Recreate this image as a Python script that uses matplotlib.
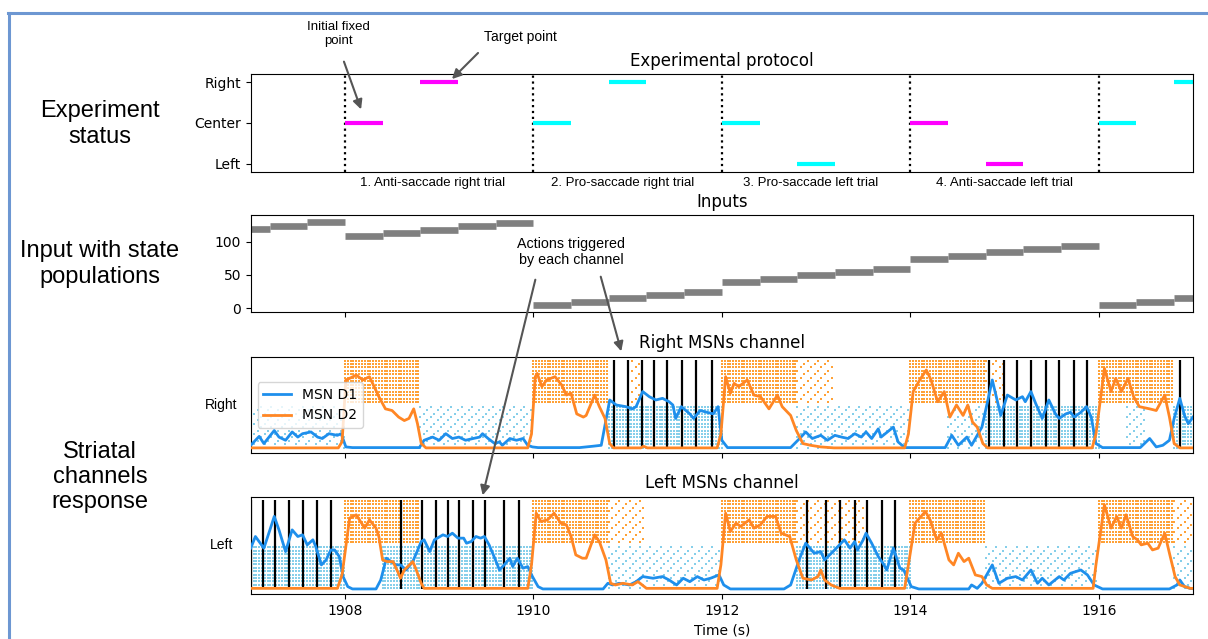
import matplotlib
matplotlib.use("Agg")
import matplotlib.pyplot as plt
import numpy as np
from matplotlib.lines import Line2D
from matplotlib.patches import FancyArrowPatch

W, H = 1208, 639
ARIAL = "Liberation Sans"

# Protocolo experimental
trial_starts = [1908, 1910, 1912, 1914, 1916]
trial_colors = ["magenta", "cyan", "cyan", "magenta", "cyan"]
target_side = [2, 2, 0, 0, 2]  # 0 = Left, 1 = Center, 2 = Right
trial_labels = ["1. Anti-saccade right trial", "2. Pro-saccade right trial",
                "3. Pro-saccade left trial", "4. Anti-saccade left trial"]
trial_label_x = [1908.93, 1910.95, 1912.94, 1915.0]

# Entradas (nivel de cada paso de 0.4 s, desde 1906.8)
input_start = 1906.8
input_levels = [119, 124, 129,
                108, 113, 118, 123, 128,
                4.5, 9.5, 14.5, 19.5, 24.5,
                39, 44, 49, 54, 59,
                74, 79, 84, 89, 94,
                4.5, 9.5, 14.5]

# Tasas MSN (tiempo, valor)
right_d1 = [(1907.00, 8.3), (1907.09, 17.5), (1907.14, 10.1), (1907.25, 23.6), (1907.30, 16.8),
            (1907.37, 13.5), (1907.44, 22.1), (1907.50, 16.8), (1907.55, 20.3), (1907.64, 22.1),
            (1907.71, 16.8), (1907.76, 15.3), (1907.83, 20.3), (1907.92, 18.6), (1907.96, 20.3),
            (1908.01, 6.6), (1908.08, 5.9), (1908.79, 5.9), (1908.84, 13.5), (1908.93, 16.8),
            (1909.00, 13.5), (1909.07, 20.3), (1909.14, 15.3), (1909.21, 16.8), (1909.28, 13.5),
            (1909.36, 15.3), (1909.43, 16.8), (1909.46, 20.3), (1909.52, 15.3), (1909.59, 10.1),
            (1909.64, 11.8), (1909.67, 8.3), (1909.75, 15.3), (1909.82, 13.5), (1909.89, 15.3),
            (1909.94, 8.3), (1909.99, 6.6), (1910.05, 5.9), (1910.49, 5.9), (1910.63, 7.3),
            (1910.72, 8.3), (1910.81, 55.2), (1910.88, 50.0), (1910.98, 48.3), (1911.05, 46.0),
            (1911.09, 48.3), (1911.16, 63.9), (1911.23, 58.6), (1911.30, 55.2), (1911.37, 56.9),
            (1911.44, 53.4), (1911.48, 50.0), (1911.51, 36.1), (1911.57, 48.3), (1911.66, 40.8),
            (1911.70, 36.1), (1911.77, 44.3), (1911.84, 42.5), (1911.91, 40.8), (1911.96, 48.3),
            (1912.00, 13.5), (1912.06, 5.9), (1912.73, 5.9), (1912.84, 16.8), (1912.89, 22.1),
            (1912.96, 15.3), (1913.05, 18.6), (1913.12, 13.5), (1913.20, 18.6), (1913.27, 16.8),
            (1913.34, 15.3), (1913.41, 20.3), (1913.48, 16.8), (1913.53, 22.1), (1913.59, 15.3),
            (1913.66, 25.3), (1913.69, 16.8), (1913.82, 27.1), (1913.87, 11.8), (1913.94, 5.9),
            (1914.37, 5.9), (1914.44, 18.6), (1914.51, 8.3), (1914.60, 16.8), (1914.65, 8.3),
            (1914.72, 20.3), (1914.76, 27.1), (1914.87, 75.9), (1914.96, 39.2), (1915.03, 60.3),
            (1915.12, 55.2), (1915.19, 58.6), (1915.22, 53.4), (1915.28, 63.9), (1915.33, 51.7),
            (1915.40, 36.1), (1915.47, 55.2), (1915.54, 40.8), (1915.58, 36.1), (1915.65, 40.8),
            (1915.70, 42.5), (1915.74, 37.5), (1915.81, 42.5), (1915.87, 48.3), (1915.92, 37.5),
            (1915.97, 10.1), (1916.04, 5.9), (1916.44, 5.9), (1916.54, 15.3), (1916.61, 6.6),
            (1916.68, 8.3), (1916.75, 13.5), (1916.80, 36.1), (1916.86, 56.9), (1916.91, 39.2),
            (1916.95, 30.6), (1917.00, 37.5)]

right_d2 = [(1907.00, 5.6), (1907.93, 5.6), (1907.97, 12.0), (1908.01, 75.9), (1908.05, 77.6),
            (1908.12, 81.0), (1908.19, 75.9), (1908.26, 79.3), (1908.31, 69.0), (1908.36, 58.6),
            (1908.43, 46.0), (1908.50, 44.3), (1908.57, 37.5), (1908.63, 33.9), (1908.68, 36.1),
            (1908.73, 46.0), (1908.77, 30.6), (1908.81, 10.1), (1908.86, 5.6), (1909.94, 5.6),
            (1909.98, 20.0), (1910.02, 79.3), (1910.04, 82.7), (1910.09, 69.0), (1910.14, 75.9),
            (1910.23, 79.3), (1910.30, 70.7), (1910.35, 60.3), (1910.40, 62.1), (1910.46, 40.8),
            (1910.53, 37.5), (1910.56, 39.2), (1910.65, 60.3), (1910.70, 48.3), (1910.76, 36.1),
            (1910.81, 10.1), (1910.85, 5.6), (1911.14, 5.6), (1911.17, 7.3), (1911.21, 5.6),
            (1911.95, 5.6), (1911.99, 20.0), (1912.04, 79.3), (1912.09, 62.1), (1912.13, 72.4),
            (1912.18, 69.0), (1912.27, 75.9), (1912.34, 60.3), (1912.41, 58.6), (1912.50, 46.0),
            (1912.59, 60.3), (1912.64, 48.3), (1912.73, 39.2), (1912.79, 23.6), (1912.86, 10.1),
            (1912.94, 8.3), (1913.05, 6.6), (1913.19, 5.6), (1913.94, 5.6), (1913.98, 20.0),
            (1914.03, 63.9), (1914.10, 75.9), (1914.17, 86.2), (1914.22, 75.9), (1914.29, 53.4),
            (1914.36, 63.9), (1914.42, 37.5), (1914.49, 50.0), (1914.56, 39.2), (1914.61, 50.0),
            (1914.66, 32.3), (1914.71, 27.1), (1914.77, 10.1), (1914.82, 5.6), (1915.93, 5.6),
            (1915.97, 20.0), (1916.06, 87.9), (1916.13, 63.9), (1916.18, 77.6), (1916.24, 63.9),
            (1916.31, 77.6), (1916.37, 58.6), (1916.43, 48.3), (1916.54, 46.0), (1916.61, 44.3),
            (1916.70, 60.3), (1916.75, 37.5), (1916.80, 10.1), (1916.86, 5.6), (1917.00, 5.6)]

left_d1 = [(1907.00, 47.1), (1907.05, 59.1), (1907.14, 47.1), (1907.21, 67.7), (1907.25, 79.7),
           (1907.30, 65.9), (1907.37, 43.6), (1907.44, 65.9), (1907.50, 59.1), (1907.55, 60.8),
           (1907.60, 50.5), (1907.66, 55.7), (1907.69, 48.8), (1907.75, 29.9), (1907.80, 35.0),
           (1907.85, 45.3), (1907.89, 45.3), (1907.94, 38.5), (1907.98, 17.9), (1908.03, 7.6),
           (1908.08, 5.2), (1908.33, 5.2), (1908.38, 14.4), (1908.44, 36.8), (1908.49, 33.3),
           (1908.54, 29.9), (1908.59, 29.9), (1908.65, 24.7), (1908.72, 33.3), (1908.81, 53.9),
           (1908.84, 55.7), (1908.90, 43.6), (1908.95, 55.7), (1909.04, 60.8), (1909.09, 59.1),
           (1909.14, 62.5), (1909.20, 57.4), (1909.26, 57.4), (1909.29, 52.2), (1909.34, 53.9),
           (1909.39, 59.1), (1909.44, 57.4), (1909.48, 59.1), (1909.53, 50.5), (1909.59, 36.8),
           (1909.64, 24.7), (1909.69, 29.9), (1909.75, 36.8), (1909.78, 28.2), (1909.83, 36.8),
           (1909.89, 26.5), (1909.94, 28.2), (1909.99, 17.9), (1910.05, 7.6), (1910.10, 5.2),
           (1910.74, 5.2), (1910.79, 11.0), (1910.84, 9.3), (1910.91, 11.0), (1911.02, 9.3),
           (1911.09, 12.7), (1911.16, 17.9), (1911.27, 16.2), (1911.37, 17.9), (1911.44, 14.4),
           (1911.52, 9.3), (1911.59, 16.2), (1911.66, 12.7), (1911.74, 17.9), (1911.81, 14.4),
           (1911.88, 16.2), (1911.97, 19.6), (1912.02, 9.3), (1912.09, 5.2), (1912.66, 5.2),
           (1912.73, 9.3), (1912.82, 35.0), (1912.89, 52.2), (1912.98, 41.9), (1913.05, 43.6),
           (1913.09, 35.0), (1913.18, 43.6), (1913.30, 55.7), (1913.36, 47.1), (1913.41, 53.9),
           (1913.44, 45.3), (1913.50, 55.7), (1913.53, 62.5), (1913.59, 52.2), (1913.66, 38.5),
           (1913.71, 31.6), (1913.75, 24.7), (1913.82, 47.1), (1913.89, 26.5), (1913.93, 24.7),
           (1914.01, 7.6), (1914.09, 5.2), (1914.62, 5.2), (1914.65, 9.3), (1914.71, 5.8),
           (1914.76, 11.0), (1914.87, 29.9), (1914.94, 11.0), (1915.03, 16.2), (1915.12, 17.9),
           (1915.19, 14.4), (1915.28, 24.7), (1915.35, 11.0), (1915.40, 16.2), (1915.47, 9.3),
           (1915.58, 17.9), (1915.63, 14.4), (1915.70, 21.3), (1915.81, 24.7), (1915.88, 19.6),
           (1915.95, 9.3), (1916.04, 5.2), (1916.75, 5.2), (1916.83, 9.3), (1916.86, 14.4),
           (1916.91, 7.6), (1916.97, 5.8), (1917.00, 5.5)]

left_d2 = [(1907.00, 5.8), (1907.92, 5.8), (1907.97, 20.0), (1908.05, 78.0), (1908.12, 81.4),
           (1908.21, 67.7), (1908.26, 76.2), (1908.33, 67.7), (1908.36, 59.1), (1908.40, 35.0),
           (1908.45, 33.3), (1908.51, 33.3), (1908.56, 23.0), (1908.59, 16.2), (1908.63, 24.7),
           (1908.72, 33.3), (1908.75, 26.5), (1908.81, 11.0), (1908.84, 5.8), (1909.94, 5.8),
           (1909.98, 30.0), (1910.03, 83.1), (1910.08, 74.5), (1910.15, 76.2), (1910.22, 83.1),
           (1910.29, 72.8), (1910.35, 71.1), (1910.40, 59.1), (1910.45, 40.2), (1910.52, 36.8),
           (1910.56, 36.8), (1910.65, 60.8), (1910.70, 53.9), (1910.77, 35.0), (1910.82, 11.0),
           (1910.87, 9.3), (1910.95, 11.0), (1911.05, 9.3), (1911.11, 12.7), (1911.20, 5.8),
           (1911.95, 5.8), (1911.99, 30.0), (1912.04, 83.1), (1912.09, 64.2), (1912.15, 72.8),
           (1912.20, 69.4), (1912.29, 76.2), (1912.34, 67.7), (1912.41, 71.1), (1912.48, 79.7),
           (1912.57, 79.7), (1912.63, 62.5), (1912.72, 59.1), (1912.79, 35.0), (1912.86, 16.2),
           (1912.95, 14.4), (1913.02, 17.9), (1913.05, 24.7), (1913.09, 14.4), (1913.16, 9.3),
           (1913.25, 5.8), (1913.94, 5.8), (1913.98, 30.0), (1914.05, 72.8), (1914.16, 84.8),
           (1914.21, 76.2), (1914.28, 55.7), (1914.33, 62.5), (1914.41, 35.0), (1914.46, 29.9),
           (1914.51, 41.9), (1914.57, 33.3), (1914.62, 36.8), (1914.69, 19.6), (1914.76, 17.9),
           (1914.81, 9.3), (1914.87, 5.8), (1915.94, 5.8), (1915.97, 30.0), (1916.06, 91.7),
           (1916.13, 67.7), (1916.19, 79.7), (1916.24, 67.7), (1916.29, 81.4), (1916.36, 59.1),
           (1916.41, 55.7), (1916.45, 50.5), (1916.52, 52.2), (1916.57, 45.3), (1916.63, 47.1),
           (1916.70, 62.5), (1916.75, 41.9), (1916.81, 17.9), (1916.86, 9.3), (1916.97, 5.8),
           (1917.00, 5.8)]

# Acciones disparadas por cada canal
right_actions = [1910.86, 1911.00, 1911.15, 1911.28, 1911.42, 1911.58, 1911.73, 1911.90,
                 1914.83, 1914.99, 1915.13, 1915.28, 1915.44, 1915.58, 1915.74, 1915.88, 1916.86]
left_actions = [1907.00, 1907.13, 1907.26, 1907.41, 1907.56, 1907.70, 1907.85,
                1908.59, 1908.82, 1908.97, 1909.09, 1909.21, 1909.36, 1909.49, 1909.69, 1909.85,
                1912.90, 1913.10, 1913.25, 1913.41, 1913.54, 1913.70, 1913.84]

# Bloques del raster (inicio, fin, densidad)
right_d2_blocks = [(1908.0, 1908.8, "dense"), (1910.0, 1910.8, "dense"), (1911.05, 1911.15, "sparse"),
                   (1912.0, 1912.8, "dense"), (1912.8, 1913.2, "sparse"), (1914.0, 1914.8, "dense"),
                   (1914.8, 1915.0, "sparse"), (1916.0, 1916.8, "dense")]
right_d1_blocks = [(1907.0, 1908.0, "sparse"), (1908.8, 1910.0, "sparse"), (1910.8, 1912.0, "dense"),
                   (1912.8, 1914.0, "sparse"), (1914.4, 1914.8, "sparse"), (1914.8, 1916.0, "dense"),
                   (1916.3, 1916.5, "sparse"), (1916.8, 1917.0, "dense")]
left_d2_blocks = [(1908.0, 1908.8, "dense"), (1910.0, 1910.8, "dense"), (1910.8, 1911.2, "sparse"),
                  (1912.0, 1912.8, "dense"), (1912.8, 1913.5, "sparse"), (1914.0, 1914.8, "dense"),
                  (1916.0, 1916.8, "dense"), (1916.8, 1917.0, "sparse")]
left_d1_blocks = [(1907.0, 1908.0, "dense"), (1908.4, 1910.0, "dense"), (1910.8, 1912.0, "sparse"),
                  (1912.8, 1914.0, "dense"), (1914.8, 1916.0, "sparse"), (1916.8, 1917.0, "sparse")]

D2_ROWS = np.linspace(53, 96, 13)
D1_ROWS = np.linspace(6, 48, 13)

C_D1 = "#1e8fec"
C_D2 = "#ff8624"
C_D1_DOT = "#86cfea"
C_D2_DOT = "#ffa136"
C_ARROW = "#555555"


def fx(x):
    return x / W


def fy(y):
    return 1 - y / H


def axes_at(x0, y0, x1, y1):
    return fig.add_axes([fx(x0), fy(y1), fx(x1) - fx(x0), fy(y0) - fy(y1)])


def raster(ax, blocks, rows, color):
    for t0, t1, kind in blocks:
        step = 0.03 if kind == "dense" else 0.11
        for i, r in enumerate(rows):
            off = 0 if kind == "dense" else (i % 3) * step / 3
            xs = np.arange(t0 + off, t1, step)
            ax.plot(xs, np.full_like(xs, r), ls="", marker="s", ms=1.5,
                    mew=0, color=color, zorder=1)


def msn_panel(ax, d1, d2, d1_blocks, d2_blocks, actions, title, side):
    raster(ax, d2_blocks, D2_ROWS, C_D2_DOT)
    raster(ax, d1_blocks, D1_ROWS, C_D1_DOT)
    ax.vlines(actions, 5, 97, color="black", lw=1.6, zorder=2)
    d1 = np.array(d1)
    d2 = np.array(d2)
    ax.plot(d1[:, 0], d1[:, 1], color=C_D1, lw=2, label="MSN D1", zorder=3)
    ax.plot(d2[:, 0], d2[:, 1], color=C_D2, lw=2, label="MSN D2", zorder=3)
    ax.set_xlim(1907, 1917)
    ax.set_ylim(0, 100)
    ax.set_yticks([])
    ax.set_xticks([1908, 1910, 1912, 1914, 1916])
    ax.set_title(title, fontsize=12)
    ax.text(-0.031, 0.5, side, transform=ax.transAxes, ha="center", va="center",
            fontsize=10, family=ARIAL)


fig = plt.figure(figsize=(W / 100, H / 100), dpi=100)

# Protocolo
ax1 = axes_at(250.7, 74, 1193, 172)
for s, c, side in zip(trial_starts, trial_colors, target_side):
    ax1.axvline(s, color="black", ls=":", lw=1.6)
    ax1.plot([s, s + 0.4], [1, 1], color=c, lw=3, solid_capstyle="butt")
    ax1.plot([s + 0.8, s + 1.2], [side, side], color=c, lw=3, solid_capstyle="butt")
ax1.set_xlim(1907, 1917)
ax1.set_ylim(-0.2, 2.2)
ax1.set_yticks([0, 1, 2])
ax1.set_yticklabels(["Left", "Center", "Right"], fontsize=10)
ax1.set_xticks([])
ax1.set_title("Experimental protocol", fontsize=12)
for lab, x in zip(trial_labels, trial_label_x):
    ax1.text(x, -0.46, lab, ha="center", va="center", fontsize=9.5, family=ARIAL)

# Entradas
ax2 = axes_at(250.7, 215, 1193, 312)
for k, lev in enumerate(input_levels):
    t0 = input_start + 0.4 * k
    ax2.plot([t0, t0 + 0.4], [lev, lev], color="#808080", lw=4.8, solid_capstyle="butt")
ax2.set_xlim(1907, 1917)
ax2.set_ylim(-6, 140)
ax2.set_yticks([0, 50, 100])
ax2.tick_params(labelsize=10)
ax2.set_xticks([1908, 1910, 1912, 1914, 1916])
ax2.set_xticklabels([])
ax2.set_title("Inputs", fontsize=12)

# Canales MSN
ax3 = axes_at(250.7, 356.7, 1193, 453.3)
msn_panel(ax3, right_d1, right_d2, right_d1_blocks, right_d2_blocks, right_actions,
          "Right MSNs channel", "Right")
ax3.set_xticklabels([])
ax3.legend(loc="center left", fontsize=10, framealpha=0.8)

ax4 = axes_at(250.7, 496.7, 1193, 594)
msn_panel(ax4, left_d1, left_d2, left_d1_blocks, left_d2_blocks, left_actions,
          "Left MSNs channel", "Left")
ax4.tick_params(labelsize=10)
ax4.set_xlabel("Time (s)", fontsize=10)

# Etiquetas de la izquierda
for txt, y in [("Experiment\nstatus", 124), ("Input with state\npopulations", 264),
               ("Striatal\nchannels\nresponse", 477)]:
    fig.text(fx(100), fy(y), txt, ha="center", va="center", fontsize=17,
             family=ARIAL, linespacing=1.2)

# Anotaciones
fig.text(fx(338), fy(34), "Initial fixed\npoint", ha="center", va="center",
         fontsize=9.5, family=ARIAL, linespacing=1.25)
fig.text(fx(520), fy(37), "Target point", ha="center", va="center", fontsize=10, family=ARIAL)
fig.text(fx(571), fy(252), "Actions triggered\nby each channel", ha="center", va="center",
         fontsize=10.3, family=ARIAL, linespacing=1.25)

for (xa, ya), (xb, yb) in [((343, 59), (362, 112)), ((480, 51), (450, 81)),
                           ((536, 277), (482, 498)), ((600, 274), (622, 354))]:
    fig.add_artist(FancyArrowPatch((fx(xa), fy(ya)), (fx(xb), fy(yb)),
                                   transform=fig.transFigure, arrowstyle="-|>",
                                   mutation_scale=14, lw=1.5, color=C_ARROW, zorder=5))

# Marco del documento
fig.add_artist(Line2D([fx(8), 1], [fy(12.5), fy(12.5)], transform=fig.transFigure,
                      color="#6d97d2", lw=2.2))
fig.add_artist(Line2D([fx(9), fx(9)], [fy(12.5), 0], transform=fig.transFigure,
                      color="#6d97d2", lw=2.2))

fig.savefig("out.png", dpi=100)
